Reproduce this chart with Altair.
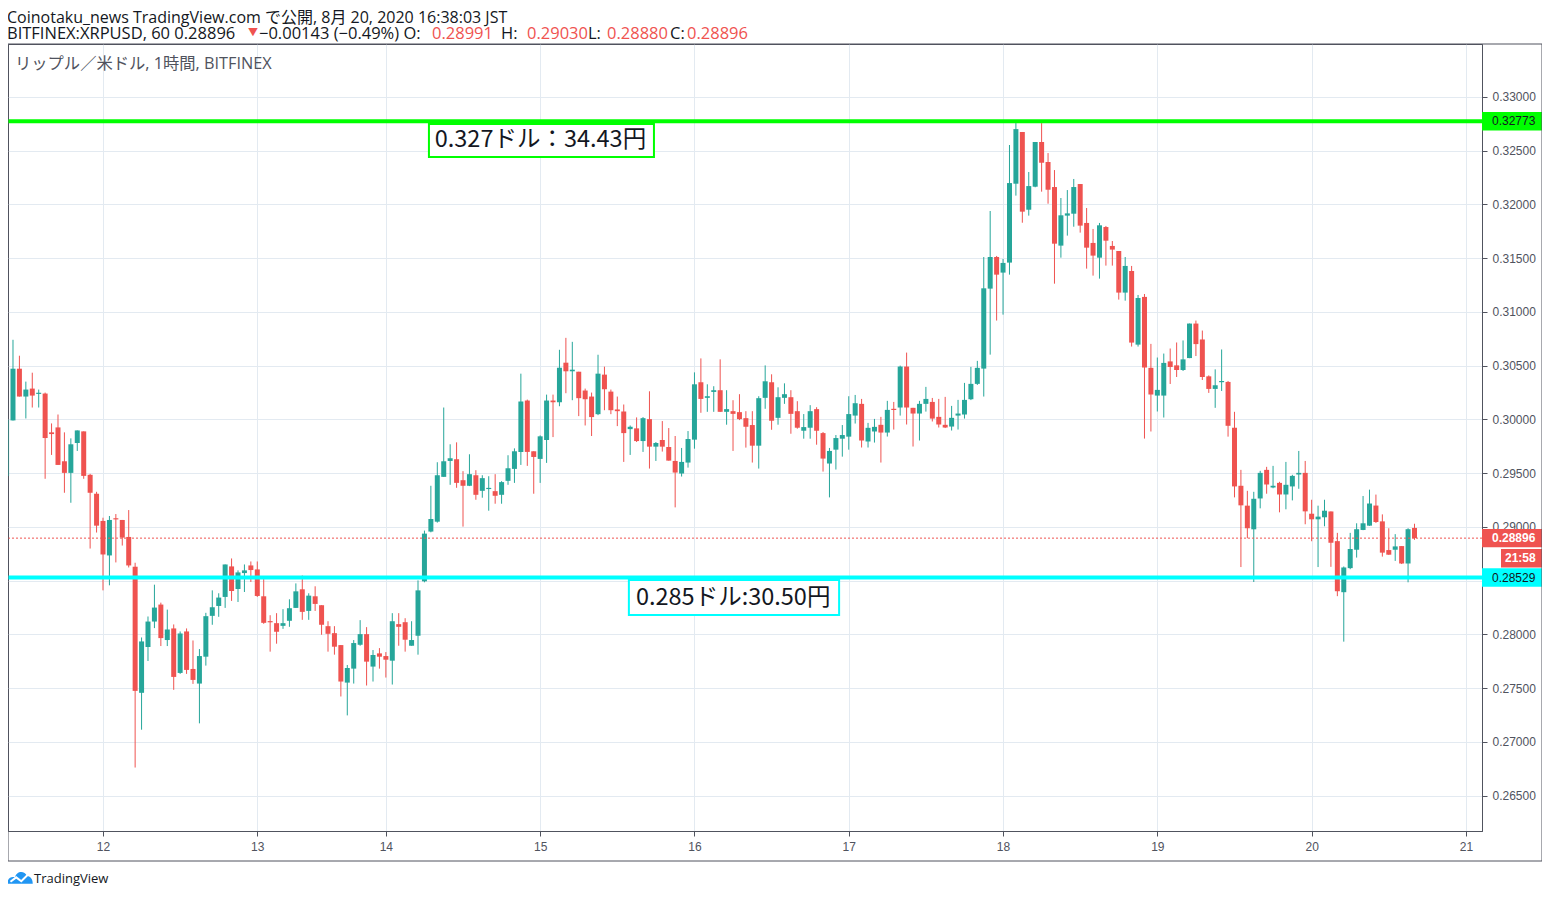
import altair as alt
import pandas as pd

# ---------------- data (hourly candles, index 0 .. 219) ----------------
open_ = [
    0.29475, 0.29991, 0.30472, 0.30213, 0.30287, 0.30241, 0.30241, 0.29880, 0.29926, 0.29611,
    0.29503, 0.29781, 0.29889, 0.29485, 0.29309, 0.29056, 0.28735, 0.29080, 0.29065, 0.28907,
    0.28630, 0.27457, 0.27883, 0.28120, 0.28278, 0.27948, 0.28056, 0.27642, 0.28028, 0.27679,
    0.27543, 0.27793, 0.28173, 0.28265, 0.28349, 0.28633, 0.28423, 0.28571, 0.28642, 0.28605,
    0.28355, 0.28123, 0.28105, 0.28080, 0.28127, 0.28247, 0.28420, 0.28219, 0.28355, 0.28272,
    0.28077, 0.28012, 0.27901, 0.27552, 0.27682, 0.27904, 0.28003, 0.27701, 0.27824, 0.27799,
    0.27756, 0.28096, 0.28114, 0.27895, 0.27988, 0.28494, 0.28957, 0.29049, 0.29466, 0.29614,
    0.29630, 0.29435, 0.29383, 0.29481, 0.29336, 0.29355, 0.29333, 0.29299, 0.29429, 0.29540,
    0.29698, 0.30176, 0.29704, 0.29633, 0.29809, 0.30176, 0.30160, 0.30528, 0.30448, 0.30444,
    0.30269, 0.30213, 0.30049, 0.30417, 0.30259, 0.30093, 0.30074, 0.29910, 0.29917, 0.29799,
    0.30003, 0.29747, 0.29809, 0.29744, 0.29614, 0.29497, 0.29599, 0.29812, 0.30346, 0.30201,
    0.30256, 0.30272, 0.30071, 0.30077, 0.30068, 0.30012, 0.29948, 0.29756, 0.30201, 0.30346,
    0.30015, 0.30201, 0.30207, 0.30077, 0.29895, 0.29923, 0.30096, 0.29873, 0.29590, 0.29719,
    0.29821, 0.29840, 0.30036, 0.30145, 0.29795, 0.29888, 0.29950, 0.29878, 0.30098, 0.30111,
    0.30492, 0.30108, 0.30055, 0.30145, 0.30163, 0.30024, 0.29950, 0.29934, 0.30036, 0.30046,
    0.30188, 0.30331, 0.30473, 0.31217, 0.31511, 0.31366, 0.31459, 0.32193, 0.32674, 0.31951,
    0.32165, 0.32581, 0.32395, 0.32162, 0.31617, 0.31896, 0.31914, 0.32190, 0.31828, 0.31642,
    0.31505, 0.31790, 0.31614, 0.31567, 0.31180, 0.31381, 0.30696, 0.31140, 0.30480, 0.30222,
    0.30222, 0.30540, 0.30503, 0.30460, 0.30571, 0.30892, 0.30744, 0.30401, 0.30284, 0.30349,
    0.30349, 0.29923, 0.29383, 0.29198, 0.28978, 0.29265, 0.29531, 0.29367, 0.29410, 0.29302,
    0.29377, 0.29488, 0.29503, 0.29123, 0.29071, 0.29090, 0.29144, 0.28868, 0.28393, 0.28617,
    0.28788, 0.28972, 0.29012, 0.29199, 0.29052, 0.28785, 0.28788, 0.28822, 0.28660, 0.28991,
]
high = [
    0.30000, 0.30741, 0.30593, 0.30352, 0.30435, 0.30278, 0.30250, 0.29963, 0.30046, 0.29880,
    0.29824, 0.29898, 0.29889, 0.29494, 0.29327, 0.29086, 0.29102, 0.29120, 0.29065, 0.29157,
    0.28667, 0.27972, 0.28167, 0.28463, 0.28296, 0.28231, 0.28093, 0.28028, 0.28056, 0.27944,
    0.27864, 0.28201, 0.28410, 0.28383, 0.28651, 0.28707, 0.28596, 0.28651, 0.28679, 0.28679,
    0.28522, 0.28179, 0.28198, 0.28235, 0.28327, 0.28475, 0.28549, 0.28383, 0.28448, 0.28272,
    0.28123, 0.28077, 0.27901, 0.27716, 0.27948, 0.28133, 0.28068, 0.27855, 0.27873, 0.27836,
    0.28198, 0.28198, 0.28151, 0.28123, 0.28503, 0.28966, 0.29383, 0.29602, 0.30111, 0.29769,
    0.29787, 0.29519, 0.29676, 0.29528, 0.29481, 0.29472, 0.29491, 0.29426, 0.29667, 0.29731,
    0.30426, 0.30185, 0.29704, 0.29852, 0.30231, 0.30231, 0.30648, 0.30759, 0.30722, 0.30444,
    0.30287, 0.30250, 0.30602, 0.30491, 0.30278, 0.30213, 0.30139, 0.29944, 0.30019, 0.30022,
    0.30262, 0.29790, 0.29985, 0.29920, 0.29846, 0.29735, 0.29892, 0.30438, 0.30568, 0.30327,
    0.30309, 0.30559, 0.30272, 0.30179, 0.30235, 0.30077, 0.30077, 0.30216, 0.30503, 0.30420,
    0.30299, 0.30336, 0.30272, 0.30170, 0.30050, 0.30133, 0.30114, 0.29883, 0.29735, 0.29855,
    0.29948, 0.30216, 0.30228, 0.30191, 0.29968, 0.30005, 0.30024, 0.30173, 0.30163, 0.30501,
    0.30622, 0.30108, 0.30173, 0.30303, 0.30200, 0.30191, 0.30210, 0.30126, 0.30182, 0.30340,
    0.30489, 0.30545, 0.31511, 0.31939, 0.31521, 0.31493, 0.32553, 0.32757, 0.32674, 0.32302,
    0.32581, 0.32757, 0.32478, 0.32320, 0.32060, 0.32134, 0.32237, 0.32190, 0.31967, 0.31772,
    0.31828, 0.31800, 0.31660, 0.31567, 0.31511, 0.31428, 0.31158, 0.31167, 0.30703, 0.30576,
    0.30613, 0.30660, 0.30716, 0.30735, 0.30892, 0.30920, 0.30827, 0.30410, 0.30466, 0.30651,
    0.30358, 0.30071, 0.29531, 0.29336, 0.29327, 0.29522, 0.29559, 0.29568, 0.29420, 0.29605,
    0.29485, 0.29707, 0.29614, 0.29253, 0.29198, 0.29253, 0.29144, 0.28945, 0.28632, 0.28945,
    0.29034, 0.29288, 0.29347, 0.29301, 0.29117, 0.28988, 0.28933, 0.28822, 0.28988, 0.29030,
]
low = [
    0.29435, 0.29990, 0.30213, 0.30009, 0.30111, 0.30111, 0.29448, 0.29670, 0.29577, 0.29318,
    0.29225, 0.29707, 0.29448, 0.28799, 0.28948, 0.28410, 0.28457, 0.28670, 0.28827, 0.28623,
    0.26762, 0.27114, 0.27753, 0.28059, 0.27892, 0.27892, 0.27485, 0.27633, 0.27633, 0.27540,
    0.27173, 0.27710, 0.28090, 0.28164, 0.28247, 0.28312, 0.28302, 0.28395, 0.28488, 0.28349,
    0.28099, 0.27840, 0.27914, 0.28052, 0.28071, 0.28247, 0.28136, 0.28136, 0.28219, 0.27997,
    0.27840, 0.27812, 0.27423, 0.27247, 0.27543, 0.27895, 0.27525, 0.27562, 0.27682, 0.27599,
    0.27534, 0.27895, 0.27840, 0.27895, 0.27812, 0.28485, 0.28950, 0.29040, 0.29466, 0.29392,
    0.29364, 0.29003, 0.29380, 0.29253, 0.29272, 0.29151, 0.29216, 0.29216, 0.29392, 0.29410,
    0.29577, 0.29568, 0.29309, 0.29410, 0.29596, 0.29836, 0.30123, 0.30244, 0.30179, 0.30031,
    0.29944, 0.29846, 0.30040, 0.30086, 0.30049, 0.29938, 0.29605, 0.29670, 0.29790, 0.29698,
    0.29543, 0.29614, 0.29701, 0.29617, 0.29182, 0.29469, 0.29552, 0.29728, 0.30062, 0.30071,
    0.30071, 0.30070, 0.29951, 0.29707, 0.29994, 0.29738, 0.29599, 0.29543, 0.30099, 0.29904,
    0.29951, 0.30145, 0.29867, 0.29914, 0.29821, 0.29821, 0.29765, 0.29515, 0.29275, 0.29534,
    0.29654, 0.29719, 0.29962, 0.29739, 0.29739, 0.29785, 0.29599, 0.29841, 0.29906, 0.30036,
    0.29953, 0.29748, 0.29804, 0.30073, 0.29981, 0.29925, 0.29920, 0.29897, 0.29906, 0.30008,
    0.30180, 0.30321, 0.30213, 0.30603, 0.30920, 0.30975, 0.31347, 0.32082, 0.31830, 0.31896,
    0.32160, 0.32119, 0.32007, 0.31263, 0.31505, 0.31710, 0.31793, 0.31738, 0.31403, 0.31338,
    0.31310, 0.31431, 0.31431, 0.31115, 0.31105, 0.30678, 0.30678, 0.29822, 0.29888, 0.30074,
    0.30018, 0.30330, 0.30395, 0.30451, 0.30570, 0.30590, 0.30367, 0.30247, 0.30108, 0.30265,
    0.29840, 0.29275, 0.28627, 0.28895, 0.28488, 0.29173, 0.29309, 0.29360, 0.29136, 0.29164,
    0.29247, 0.29355, 0.29025, 0.28867, 0.28627, 0.29006, 0.28629, 0.28356, 0.27933, 0.28607,
    0.28715, 0.28970, 0.29010, 0.29037, 0.28724, 0.28740, 0.28684, 0.28655, 0.28485, 0.28880,
]
close = [
    0.29997, 0.30472, 0.30213, 0.30278, 0.30222, 0.30245, 0.29827, 0.29864, 0.29577, 0.29503,
    0.29769, 0.29898, 0.29475, 0.29318, 0.29012, 0.28744, 0.29065, 0.29071, 0.28901, 0.28642,
    0.27475, 0.27935, 0.28120, 0.28250, 0.27966, 0.28046, 0.27605, 0.28009, 0.27670, 0.27577,
    0.27799, 0.28170, 0.28253, 0.28343, 0.28651, 0.28404, 0.28577, 0.28596, 0.28599, 0.28358,
    0.28108, 0.28114, 0.28025, 0.28105, 0.28244, 0.28401, 0.28210, 0.28361, 0.28284, 0.28090,
    0.28006, 0.27886, 0.27562, 0.27688, 0.27920, 0.28003, 0.27747, 0.27809, 0.27793, 0.27765,
    0.28123, 0.28071, 0.27951, 0.27948, 0.28410, 0.28938, 0.29074, 0.29481, 0.29611, 0.29639,
    0.29410, 0.29383, 0.29491, 0.29299, 0.29454, 0.29361, 0.29290, 0.29417, 0.29546, 0.29704,
    0.30167, 0.29698, 0.29651, 0.29843, 0.30176, 0.30160, 0.30481, 0.30448, 0.30463, 0.30198,
    0.30188, 0.30022, 0.30426, 0.30281, 0.30086, 0.30077, 0.29873, 0.29932, 0.29799, 0.30012,
    0.29747, 0.29781, 0.29747, 0.29617, 0.29506, 0.29605, 0.29818, 0.30327, 0.30191, 0.30216,
    0.30272, 0.30071, 0.30096, 0.30052, 0.30003, 0.29932, 0.29756, 0.30198, 0.30355, 0.29988,
    0.30207, 0.30235, 0.30052, 0.29923, 0.29929, 0.30077, 0.29895, 0.29636, 0.29707, 0.29827,
    0.29855, 0.30050, 0.30151, 0.29804, 0.29922, 0.29931, 0.29878, 0.30089, 0.30089, 0.30492,
    0.30111, 0.30055, 0.30145, 0.30191, 0.30008, 0.29953, 0.29925, 0.30015, 0.30055, 0.30182,
    0.30331, 0.30480, 0.31220, 0.31511, 0.31347, 0.31456, 0.32199, 0.32701, 0.31933, 0.32171,
    0.32581, 0.32388, 0.32137, 0.31635, 0.31899, 0.31917, 0.32162, 0.31803, 0.31598, 0.31524,
    0.31806, 0.31663, 0.31580, 0.31180, 0.31428, 0.30715, 0.31130, 0.30483, 0.30232, 0.30275,
    0.30526, 0.30488, 0.30460, 0.30559, 0.30892, 0.30701, 0.30395, 0.30284, 0.30318, 0.30355,
    0.29941, 0.29377, 0.29201, 0.28988, 0.29262, 0.29503, 0.29395, 0.29383, 0.29302, 0.29392,
    0.29475, 0.29503, 0.29145, 0.29071, 0.29096, 0.29151, 0.28853, 0.28402, 0.28623, 0.28795,
    0.28979, 0.29034, 0.29218, 0.29046, 0.28761, 0.28742, 0.28819, 0.28660, 0.28979, 0.28896,
]

day_idx = [15, 39, 59, 83, 107, 131, 155, 179, 203, 227]
day_lbl = ["12", "13", "14", "15", "16", "17", "18", "19", "20", "21"]
price_ticks = [0.265, 0.270, 0.275, 0.280, 0.285, 0.290, 0.295, 0.300,
               0.305, 0.310, 0.315, 0.320, 0.325, 0.330]

resist_level = 0.32773
support_level = 0.28529
last_price = 0.28896
resist_note = "0.327ドル：34.43円"
support_note = "0.285ドル:30.50円"

# ---------------- frame ----------------
W, H = 1474, 787
UP, DOWN = "#26a69a", "#ef5350"
LIME, AQUA = "#00ff00", "#00ffff"
GRID = "#e3eaf1"
FRAME = "#50535e"
F_UI = "Open Sans, Noto Sans CJK JP, sans-serif"
F_JP = "Noto Sans CJK JP, sans-serif"
F_AX = "Liberation Sans, Arial, sans-serif"

n = len(close)
df = pd.DataFrame({"i": list(range(n)), "o": open_, "h": high, "l": low, "c": close})
df["dir"] = ["up" if c >= o else "down" for o, c in zip(df["o"], df["c"])]
mn = 0.00011
lo_b, hi_b = [], []
for o, c in zip(df["o"], df["c"]):
    a, b = min(o, c), max(o, c)
    if b - a < mn:
        m = (a + b) / 2
        a, b = m - mn / 2, m + mn / 2
    lo_b.append(a)
    hi_b.append(b)
df["blo"] = lo_b
df["bhi"] = hi_b

xs = alt.Scale(domain=[0.224, 229.5], nice=False, zero=False, padding=0)
ys = alt.Scale(domain=[0.261716, 0.334926], nice=False, zero=False, padding=0)

expr = "''"
for idx, lbl in reversed(list(zip(day_idx, day_lbl))):
    expr = f"datum.value == {idx} ? '{lbl}' : ({expr})"

# the support tag covers its own price label, as in the original
y_label_expr = f"abs(datum.value - {support_level}) < 0.001 ? '' : format(datum.value, '.5f')"

x_axis = alt.Axis(values=day_idx, labelExpr=expr, title=None, grid=True, gridColor=GRID,
                  tickSize=5, tickColor=FRAME, domainColor=FRAME, labelColor="#50535e",
                  labelFontSize=12, labelFont=F_AX, labelPadding=5, labelFlush=False)
y_axis = alt.Axis(orient="right", values=price_ticks, labelExpr=y_label_expr, title=None,
                  grid=True, gridColor=GRID, tickSize=5, tickColor=FRAME, domainColor=FRAME,
                  labelColor="#50535e", labelFontSize=12, labelFont=F_AX, labelPadding=5)


def X(field):
    return alt.X(field, scale=xs, axis=x_axis)


def Y(field):
    return alt.Y(field, scale=ys, axis=y_axis)


col = alt.Color("dir:N", scale=alt.Scale(domain=["up", "down"], range=[UP, DOWN]), legend=None)

wicks = alt.Chart(df).mark_rule(strokeWidth=1, clip=True).encode(
    x=X("i:Q"), y=Y("l:Q"), y2="h:Q", color=col)
bodies = alt.Chart(df).mark_bar(size=5, clip=True).encode(
    x=X("i:Q"), y=Y("blo:Q"), y2="bhi:Q", color=col)

resist_line = alt.Chart(pd.DataFrame({"p": [resist_level]})).mark_rule(
    strokeWidth=4, color=LIME).encode(y=Y("p:Q"))
support_line = alt.Chart(pd.DataFrame({"p": [support_level]})).mark_rule(
    strokeWidth=4, color=AQUA).encode(y=Y("p:Q"))
last_line = alt.Chart(pd.DataFrame({"p": [last_price]})).mark_rule(
    strokeWidth=1, strokeDash=[2, 2], color=DOWN).encode(y=Y("p:Q"))

# annotation boxes (in bar-index / price units)
box_x0 = [65.7, 96.8]
box_x1 = [100.7, 129.5]
box_y0 = [0.32748, 0.28506]
box_y1 = [0.32441, 0.28181]
txt_x = [66.6, 97.9]
txt_y = [0.32595, 0.28340]
box_layers = []
for k, (note, edge) in enumerate([(resist_note, LIME), (support_note, AQUA)]):
    b = pd.DataFrame({"x0": [box_x0[k]], "x1": [box_x1[k]], "y0": [box_y0[k]], "y1": [box_y1[k]],
                      "tx": [txt_x[k]], "ty": [txt_y[k]], "t": [note]})
    box_layers.append(alt.Chart(b).mark_rect(fill="white", stroke=edge, strokeWidth=2).encode(
        x=X("x0:Q"), x2="x1:Q", y=Y("y0:Q"), y2="y1:Q"))
    box_layers.append(alt.Chart(b).mark_text(align="left", baseline="middle", fontSize=23.5,
                                             font=F_JP, color="#131722").encode(
        x=X("tx:Q"), y=Y("ty:Q"), text="t:N"))

# price tags on the right scale
half = 0.00086
tag_layers = []
for p, t, fill, tcol, weight, x0, tx in [
    (resist_level, f"{resist_level:.5f}", LIME, "#131722", "normal", 0, 10),
    (last_price, f"{last_price:.5f}", DOWN, "white", "bold", 0, 10),
    (last_price - 0.00187, "21:58", DOWN, "white", "bold", 19, 23),
    (support_level, f"{support_level:.5f}", AQUA, "#131722", "normal", 0, 10),
]:
    d = pd.DataFrame({"p": [p], "lo": [p - half], "hi": [p + half], "t": [t]})
    tag_layers.append(alt.Chart(d).mark_rect(color=fill).encode(
        x=alt.value(W + x0), x2=alt.value(W + 60), y=Y("lo:Q"), y2="hi:Q"))
    tag_layers.append(alt.Chart(d).mark_text(align="left", baseline="middle", fontSize=12,
                                             font=F_AX, color=tcol, fontWeight=weight).encode(
        x=alt.value(W + tx), y=Y("p:Q"), text="t:N"))

one = pd.DataFrame({"a": [0]})


def label(txt, px, py, size, color, weight="normal", font=F_UI):
    return alt.Chart(one).mark_text(
        text=txt, align="left", baseline="alphabetic", fontSize=size, color=color,
        fontWeight=weight, font=font).encode(x=alt.value(px), y=alt.value(py))


L1, L2 = -21.5, -5.5
hdr = [
    label("Coinotaku_news TradingView.com で公開, 8月 20, 2020 16:38:03 JST", -1, L1, 16, "#131722"),
    label("BITFINEX:XRPUSD, 60 0.28896", -1, L2, 16.5, "#131722"),
    label("▼", 240, L2 - 3, 10, DOWN),
    label("−0.00143 (−0.49%) O:", 251, L2, 16.5, "#131722"),
    label("0.28991", 424, L2, 16.5, DOWN),
    label("H:", 493, L2, 16.5, "#131722"),
    label("0.29030", 519, L2, 16.5, DOWN),
    label("L:", 580, L2, 16.5, "#131722"),
    label("0.28880", 599, L2, 16.5, DOWN),
    label("C:", 662, L2, 16.5, "#131722"),
    label("0.28896", 679, L2, 16.5, DOWN),
    label("リップル／米ドル, 1時間, BITFINEX", 7, 25, 16.3, "#50535e"),
    label("TradingView", 26, 839, 13, "#131722"),
]

frame = alt.Chart(one).mark_rect(filled=False, stroke=FRAME, strokeWidth=1).encode(
    x=alt.value(0), x2=alt.value(W + 60), y=alt.value(0), y2=alt.value(H + 30))

cloud = ("M -1 0.45 C -1 0.05 -0.7 -0.15 -0.4 -0.05 C -0.3 -0.55 0.35 -0.65 0.55 -0.15 "
         "C 0.85 -0.15 1 0.15 1 0.45 Z")
zig = "M -0.75 0.3 L -0.3 -0.05 L 0.1 0.25 L 0.65 -0.3"
logo = alt.Chart(one).mark_point(shape=cloud, size=650, filled=True, fill="#2196f3",
                                 strokeWidth=0, opacity=1).encode(
    x=alt.value(12), y=alt.value(834))
logo_z = alt.Chart(one).mark_point(shape=zig, size=650, filled=False, stroke="white",
                                   strokeWidth=2, opacity=1).encode(
    x=alt.value(12), y=alt.value(834))

chart = alt.layer(
    wicks, bodies, resist_line, support_line, last_line, *box_layers, *tag_layers,
    frame, logo, logo_z, *hdr,
).properties(
    width=W, height=H,
    autosize=alt.AutoSizeParams(type="none"),
    padding={"left": 0, "top": 36, "right": 60, "bottom": 58},
    background="white",
).configure_view(stroke=FRAME, strokeWidth=1)

chart.save("out.html", embed_options={"renderer": "svg", "actions": False})
